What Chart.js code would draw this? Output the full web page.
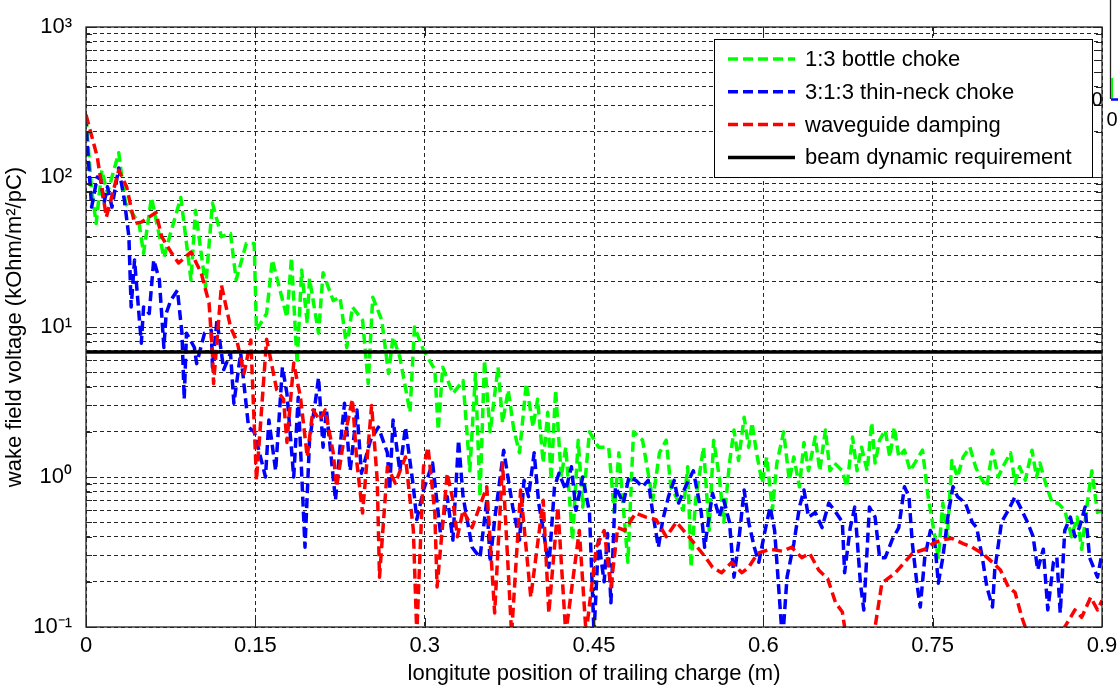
<!DOCTYPE html>
<html><head><meta charset="utf-8">
<script src="https://cdn.jsdelivr.net/npm/chart.js@4.4.1/dist/chart.umd.min.js"></script>
<style>html,body{margin:0;padding:0;background:#fff;overflow:hidden}canvas{display:block}</style>
</head><body>
<canvas id="c" width="1118" height="685"></canvas>
<script>
const seriesLabels = ['1:3 bottle choke', '3:1:3 thin-neck choke', 'waveguide damping', 'beam dynamic requirement'];

const greenX = [0,0.005,0.009,0.014,0.019,0.029,0.032,0.035,0.047,0.051,0.058,0.069,0.074,0.084,0.093,0.097,0.106,0.112,0.120,0.128,0.133,0.142,0.149,0.151,0.160,0.165,0.178,0.182,0.187,0.191,0.196,0.198,0.206,0.210,0.219,0.225,0.231,0.236,0.245,0.250,0.254,0.262,0.268,0.272,0.278,0.287,0.291,0.299,0.309,0.312,0.316,0.325,0.334,0.340,0.345,0.349,0.353,0.358,0.365,0.369,0.374,0.379,0.384,0.390,0.396,0.400,0.405,0.409,0.412,0.416,0.421,0.425,0.431,0.436,0.440,0.446,0.454,0.463,0.468,0.472,0.480,0.485,0.493,0.498,0.502,0.508,0.514,0.518,0.529,0.533,0.536,0.540,0.547,0.548,0.552,0.556,0.561,0.565,0.570,0.574,0.578,0.583,0.587,0.590,0.594,0.599,0.603,0.608,0.612,0.618,0.623,0.627,0.632,0.636,0.640,0.646,0.650,0.655,0.659,0.663,0.670,0.674,0.679,0.683,0.687,0.692,0.696,0.699,0.703,0.708,0.712,0.716,0.720,0.725,0.730,0.741,0.746,0.755,0.759,0.763,0.767,0.772,0.777,0.783,0.788,0.792,0.798,0.803,0.808,0.814,0.819,0.823,0.827,0.832,0.838,0.842,0.845,0.850,0.856,0.861,0.867,0.873,0.878,0.882,0.887,0.891,0.896,0.900];
const greenY = [250,82,49,111,78,145,96,67,49,31,73,29,40,73,20.6,60,18.5,67,40,42,20.6,36,36,9.5,12.3,28,11.6,29,5.7,24,10.6,21,9.1,23,15,15.8,7.3,13.6,11.1,4.2,15.8,11.1,4.9,8.6,6.3,2.7,10,7,5.2,2.06,5.4,3.6,4.4,1.1,4.9,0.74,6,2.0,5.4,2.3,3.8,2.06,1.45,4.2,2.15,3.3,1.24,2.7,0.95,3.8,1.0,1.58,0.38,1.76,0.63,2.0,1.58,1.58,0.58,1.45,0.27,2.0,1.76,1.06,0.7,1.45,1.76,0.86,0.6,1.17,0.25,0.7,1.58,1.24,0.44,1.76,1.0,0.5,1.24,2.06,1.29,2.5,1.58,2.3,1.45,0.91,1.36,0.6,1.24,2.0,0.95,1.36,0.86,1.7,1.1,1.85,1.1,2.06,1.1,1.24,1.1,0.86,1.85,1.1,1.58,1.1,2.3,1.24,1.76,2.06,1.36,2.15,1.36,1.51,1.1,1.51,0.74,0.29,0.67,0.4,1.29,1.0,1.36,1.58,1.17,1.0,0.86,1.51,1.0,1.24,1.45,0.91,1.17,0.95,1.51,1.0,1.24,0.91,0.67,0.67,0.6,0.4,0.54,0.33,0.67,1.1,0.58,0.6];

const blueX = [0,0.001,0.005,0.010,0.013,0.016,0.019,0.023,0.029,0.034,0.038,0.040,0.043,0.049,0.051,0.056,0.060,0.065,0.069,0.071,0.075,0.081,0.085,0.087,0.089,0.096,0.098,0.105,0.111,0.112,0.116,0.122,0.128,0.131,0.137,0.144,0.149,0.159,0.162,0.168,0.174,0.178,0.184,0.188,0.194,0.198,0.203,0.206,0.210,0.213,0.221,0.225,0.229,0.234,0.240,0.244,0.252,0.259,0.267,0.269,0.272,0.278,0.283,0.290,0.293,0.299,0.307,0.314,0.320,0.325,0.330,0.334,0.342,0.349,0.355,0.358,0.362,0.370,0.378,0.384,0.388,0.392,0.397,0.401,0.406,0.410,0.415,0.419,0.425,0.430,0.434,0.440,0.446,0.450,0.454,0.459,0.462,0.465,0.469,0.476,0.481,0.487,0.493,0.498,0.502,0.507,0.511,0.516,0.521,0.525,0.531,0.538,0.545,0.548,0.555,0.561,0.565,0.570,0.574,0.578,0.583,0.587,0.592,0.596,0.601,0.606,0.610,0.617,0.621,0.627,0.632,0.636,0.640,0.646,0.652,0.658,0.663,0.670,0.672,0.677,0.681,0.686,0.689,0.694,0.699,0.703,0.708,0.714,0.720,0.725,0.729,0.732,0.736,0.739,0.743,0.748,0.752,0.755,0.759,0.764,0.768,0.772,0.779,0.785,0.789,0.794,0.798,0.803,0.805,0.811,0.817,0.823,0.829,0.834,0.839,0.843,0.848,0.852,0.857,0.860,0.863,0.867,0.872,0.876,0.880,0.885,0.889,0.896,0.900];
const blueY = [255,170,63,100,96,67,86,63,115,70,40,13.6,28,7.8,13.6,12.3,28,20.6,7.3,12.3,15,17.6,9.1,3.3,9.1,7.3,5.7,9.1,9.5,5.4,11.1,5.2,6.7,3.1,6.7,2.15,2.0,1.0,2.4,1.1,5.4,3.6,1.0,3.4,0.34,1.76,3.1,4.6,1.58,2.8,0.7,1.58,3.1,1.1,2.8,1.06,1.76,2.15,1.45,0.82,2.4,1.1,2.15,0.86,0.52,0.82,1.24,0.42,0.74,0.38,1.76,0.74,0.34,0.29,0.7,0.27,0.52,1.51,0.63,0.38,0.95,0.74,1.45,0.67,0.4,0.25,0.86,1.06,0.82,1.17,0.6,1.0,0.58,0.09,0.38,0.2,0.42,0.145,0.86,0.67,1.0,0.95,0.86,0.95,0.58,0.34,0.52,0.74,0.95,0.67,0.86,1.1,0.58,0.34,0.78,0.54,0.7,0.5,0.215,0.36,0.82,0.5,0.34,0.27,0.42,0.63,0.44,0.08,0.215,0.36,0.63,0.82,0.54,0.58,0.46,0.67,0.6,0.5,0.23,0.46,0.63,0.196,0.13,0.63,0.54,0.29,0.29,0.38,0.46,0.86,0.74,0.36,0.196,0.136,0.29,0.44,0.36,0.196,0.29,0.58,0.86,0.74,0.67,0.5,0.46,0.29,0.185,0.136,0.24,0.5,0.6,0.74,0.6,0.5,0.4,0.24,0.33,0.13,0.27,0.29,0.124,0.44,0.54,0.4,0.46,0.63,0.29,0.215,0.31];

const redX = [0,0.010,0.014,0.018,0.029,0.036,0.043,0.049,0.062,0.067,0.076,0.082,0.093,0.102,0.109,0.112,0.113,0.120,0.128,0.134,0.140,0.146,0.151,0.160,0.169,0.175,0.178,0.184,0.190,0.196,0.201,0.207,0.212,0.219,0.222,0.228,0.236,0.240,0.245,0.253,0.258,0.260,0.267,0.274,0.283,0.290,0.293,0.299,0.303,0.309,0.311,0.320,0.325,0.329,0.334,0.342,0.355,0.362,0.369,0.377,0.385,0.394,0.405,0.410,0.418,0.425,0.437,0.443,0.452,0.459,0.465,0.471,0.477,0.487,0.496,0.505,0.514,0.523,0.534,0.549,0.555,0.563,0.572,0.581,0.587,0.595,0.606,0.617,0.625,0.634,0.641,0.649,0.657,0.664,0.670,0.672,0.686,0.699,0.705,0.717,0.732,0.743,0.750,0.758,0.767,0.777,0.785,0.794,0.803,0.810,0.817,0.823,0.829,0.832,0.850,0.867,0.876,0.882,0.890,0.896,0.900];
const redY = [260,136,86,54,111,86,49,50,58,40,31,26.7,31.6,23,14.5,6.7,4.2,19,10,7.9,4.9,8.2,0.95,8.3,3.8,3.3,1.7,5.75,3.4,1.36,2.8,2.4,2.8,1.45,0.86,1.7,3.3,1.24,0.575,3.0,0.95,0.215,1.17,0.91,1.36,0.44,0.09,1.17,1.58,0.575,0.185,1.06,0.7,0.4,0.6,0.46,0.86,0.124,1.24,0.09,0.82,0.158,0.7,0.124,0.63,0.09,0.44,0.09,0.34,0.44,0.185,0.46,0.44,0.575,0.54,0.52,0.4,0.5,0.4,0.29,0.25,0.23,0.27,0.23,0.25,0.31,0.33,0.32,0.34,0.29,0.31,0.24,0.21,0.145,0.126,0.1,0.05,0.1,0.196,0.23,0.31,0.33,0.36,0.38,0.39,0.36,0.34,0.31,0.27,0.24,0.185,0.17,0.116,0.1,0.05,0.1,0.13,0.116,0.158,0.13,0.15];

const requirementX = [0, 0.9];
const requirementY = [6.8, 6.8];

const xTicks = [0, 0.15, 0.3, 0.45, 0.6, 0.75, 0.9];
const xTickLabels = ['0', '0.15', '0.3', '0.45', '0.6', '0.75', '0.9'];
const yDecades = [0.1, 1, 10, 100, 1000];
const yDecadeLabels = ['10\u207B\u00B9', '10\u2070', '10\u00B9', '10\u00B2', '10\u00B3'];
const xTitle = 'longitute position of trailing charge (m)';
const yTitle = 'wake field voltage (kOhm/m\u00B2/pC)';

const FONT = '"Liberation Sans", Arial, sans-serif';
const toXY = (xs, ys) => xs.map((x, i) => ({x: x, y: ys[i]}));

const yTickValues = [];
for (let d = 0; d < yDecades.length - 1; d++) {
  for (let m = 1; m <= 9; m++) yTickValues.push(yDecades[d] * m);
}
yTickValues.push(yDecades[yDecades.length - 1]);

const frame = {
  id: 'frame',
  afterDatasetsDraw(chart) {
    const {ctx, chartArea: a, scales: {x, y}} = chart;
    // legend inside axes
    const w = 378, h = 138;
    const x0 = a.right - 10 - w, y0 = a.top + 12;
    ctx.save();
    ctx.setLineDash([]);
    ctx.fillStyle = '#fff';
    ctx.fillRect(x0, y0, w, h);
    ctx.strokeStyle = '#000';
    ctx.lineWidth = 1;
    ctx.strokeRect(x0 + 0.5, y0 + 0.5, w, h);
    ctx.font = '22px ' + FONT;
    ctx.textBaseline = 'middle';
    ctx.textAlign = 'left';
    chart.data.datasets.forEach((ds, i) => {
      const cy = y0 + 20 + i * 32.8;
      ctx.strokeStyle = ds.borderColor;
      ctx.lineWidth = ds.borderWidth;
      ctx.setLineDash(ds.borderDash || []);
      ctx.beginPath();
      ctx.moveTo(x0 + 14, cy);
      ctx.lineTo(x0 + 81, cy);
      ctx.stroke();
      ctx.setLineDash([]);
      ctx.fillStyle = '#000';
      ctx.fillText(ds.label, x0 + 91, cy + 1);
    });
    // axes box and inner tick marks
    ctx.strokeStyle = '#222';
    ctx.lineWidth = 1.3;
    ctx.setLineDash([]);
    ctx.strokeRect(a.left, a.top, a.right - a.left, a.bottom - a.top);
    ctx.beginPath();
    y.ticks.forEach(t => {
      const py = Math.round(y.getPixelForValue(t.value)) + 0.5;
      const len = t.label ? 9 : 6;
      ctx.moveTo(a.left, py); ctx.lineTo(a.left + len, py);
      ctx.moveTo(a.right, py); ctx.lineTo(a.right - len, py);
    });
    x.ticks.forEach(t => {
      const px = Math.round(x.getPixelForValue(t.value)) + 0.5;
      ctx.moveTo(px, a.bottom); ctx.lineTo(px, a.bottom - 9);
      ctx.moveTo(px, a.top); ctx.lineTo(px, a.top + 9);
    });
    ctx.lineWidth = 1;
    ctx.stroke();
    ctx.restore();
  },
  afterDraw(chart) {
    // fragment of a neighbouring figure visible at the right edge
    const ctx = chart.ctx;
    ctx.save();
    ctx.setLineDash([]);
    ctx.strokeStyle = '#222'; ctx.lineWidth = 1.3;
    ctx.beginPath(); ctx.moveTo(1110.5, 0); ctx.lineTo(1110.5, 99); ctx.stroke();
    ctx.strokeStyle = '#00ff00'; ctx.lineWidth = 2;
    ctx.beginPath(); ctx.moveTo(1112, 78); ctx.lineTo(1112, 98); ctx.stroke();
    ctx.strokeStyle = '#0000ff'; ctx.lineWidth = 2.5;
    ctx.beginPath(); ctx.moveTo(1111, 99.5); ctx.lineTo(1118, 99.5); ctx.stroke();
    ctx.fillStyle = '#000';
    ctx.font = '20px ' + FONT;
    ctx.textBaseline = 'middle'; ctx.textAlign = 'center';
    ctx.fillText('0', 1097, 100);
    ctx.fillText('0', 1112, 120);
    ctx.restore();
  }
};

const lineStyle = (label, color, xs, ys, order, dashed) => ({
  label: label,
  data: toXY(xs, ys),
  borderColor: color,
  backgroundColor: color,
  borderWidth: dashed ? 3.5 : 3.5,
  borderDash: dashed ? [10, 5] : [],
  borderJoinStyle: 'round',
  pointRadius: 0,
  tension: 0,
  fill: false,
  order: order
});

new Chart(document.getElementById('c'), {
  type: 'line',
  data: {
    datasets: [
      lineStyle(seriesLabels[0], '#00ff00', greenX, greenY, 4, true),
      lineStyle(seriesLabels[1], '#0000ff', blueX, blueY, 3, true),
      lineStyle(seriesLabels[2], '#ff0000', redX, redY, 2, true),
      lineStyle(seriesLabels[3], '#000000', requirementX, requirementY, 1, false)
    ]
  },
  options: {
    responsive: false,
    devicePixelRatio: 1,
    animation: false,
    events: [],
    layout: {padding: {top: 27, right: 16, left: 0, bottom: 0}},
    plugins: {legend: {display: false}, tooltip: {enabled: false}},
    scales: {
      x: {
        type: 'linear',
        min: 0, max: 0.9,
        afterBuildTicks: s => { s.ticks = xTicks.map(v => ({value: v})); },
        afterFit: s => { s.height = 58; s.paddingLeft = 0; s.paddingRight = 0; },
        ticks: {
          autoSkip: false, maxRotation: 0, padding: 6, color: '#000',
          font: {family: FONT, size: 22},
          callback: (v, i) => xTickLabels[i]
        },
        grid: {color: 'rgba(0,0,0,0.85)', lineWidth: 1, drawTicks: false},
        border: {display: false, dash: [4, 3]},
        title: {display: true, text: xTitle, color: '#000', font: {family: FONT, size: 22, lineHeight: 1}, padding: {top: 0, bottom: 0}}
      },
      y: {
        type: 'logarithmic',
        min: 0.1, max: 1000,
        afterBuildTicks: s => { s.ticks = yTickValues.map(v => ({value: v})); },
        afterFit: s => { s.width = 86; s.paddingTop = 0; s.paddingBottom = 0; },
        ticks: {
          autoSkip: false, padding: 14, color: '#000',
          font: {family: FONT, size: 22},
          callback: v => {
            const k = yDecades.findIndex(d => Math.abs(Math.log10(v) - Math.log10(d)) < 1e-6);
            return k >= 0 ? yDecadeLabels[k] : '';
          }
        },
        grid: {color: 'rgba(0,0,0,0.85)', lineWidth: 1, drawTicks: false},
        border: {display: false, dash: [4, 3]},
        title: {display: true, text: yTitle, color: '#000', font: {family: FONT, size: 22, lineHeight: 1}, padding: {top: 4, bottom: 0}}
      }
    }
  },
  plugins: [frame]
});
</script>
</body></html>
